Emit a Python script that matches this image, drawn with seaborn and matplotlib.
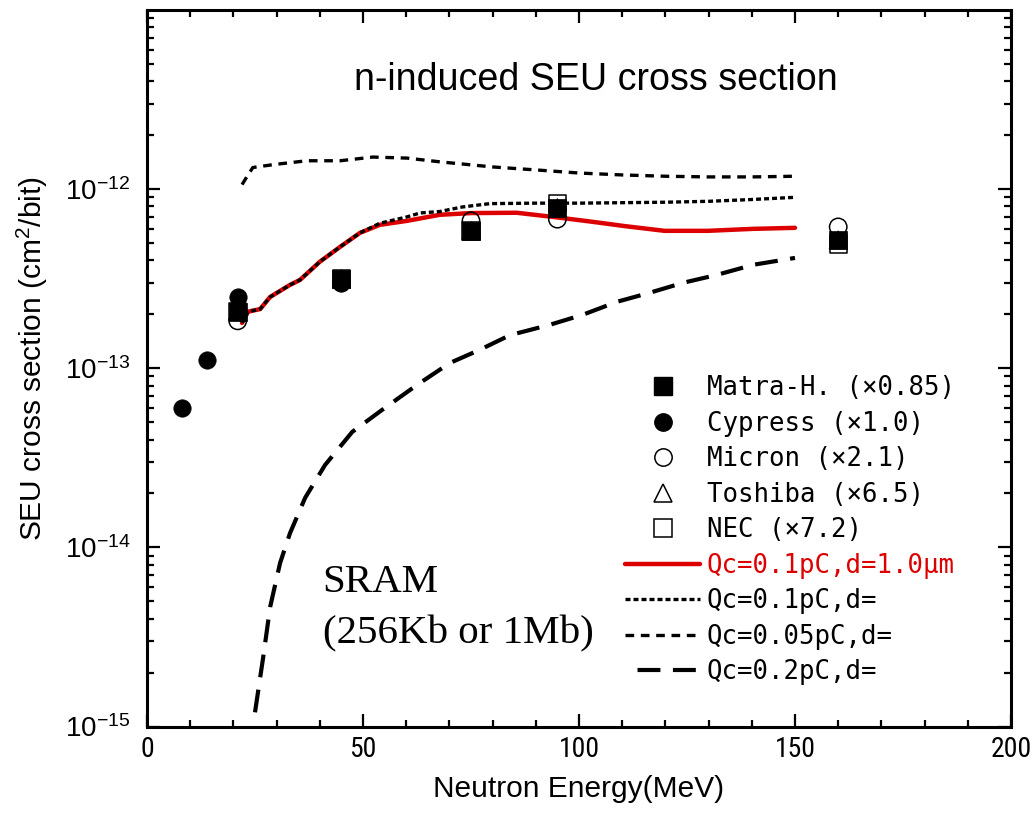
import matplotlib
matplotlib.use("Agg")
import matplotlib.pyplot as plt
import seaborn as sns
import pandas as pd
from matplotlib.lines import Line2D
from matplotlib.ticker import LogLocator, MultipleLocator, LogFormatterSciNotation, NullFormatter
from matplotlib import font_manager as fm

# ---------------- data ----------------
matra_E = [21, 45, 75, 95, 160]
matra_sigma = [2.07e-13, 3.15e-13, 5.85e-13, 7.87e-13, 5.2e-13]
cypress_E = [8, 14, 21, 45]
cypress_sigma = [6.0e-14, 1.11e-13, 2.5e-13, 3.0e-13]
micron_E = [21, 45, 75, 95, 160]
micron_sigma = [1.84e-13, 3.0e-13, 6.65e-13, 6.8e-13, 6.15e-13]
toshiba_E = [21, 45, 75, 95, 160]
toshiba_sigma = [2.07e-13, 3.15e-13, 5.85e-13, 7.87e-13, 5.2e-13]
nec_E = [21, 45, 75, 95, 160]
nec_sigma = [2.07e-13, 3.15e-13, 5.85e-13, 8.3e-13, 4.95e-13]

red_E = [22.0, 23.4, 26.2, 28.5, 33.1, 35.4, 40.0, 44.7, 49.3, 53.9, 60.2, 67.8,
         75.0, 85.6, 95.0, 102.5, 110.5, 119.8, 129.8, 140.2, 150.0]
red_sigma = [1.79e-13, 2.07e-13, 2.14e-13, 2.5e-13, 2.92e-13, 3.11e-13, 3.93e-13,
             4.76e-13, 5.7e-13, 6.32e-13, 6.65e-13, 7.19e-13, 7.35e-13, 7.38e-13,
             6.95e-13, 6.6e-13, 6.22e-13, 5.85e-13, 5.85e-13, 6.0e-13, 6.08e-13]

dot_E = [22.0, 23.4, 26.2, 28.5, 33.1, 35.4, 40.0, 44.7, 49.3, 53.9, 60.2, 63.2,
         67.8, 73.0, 79.4, 90.0, 100.0, 110.0, 120.0, 130.0, 140.0, 150.0]
dot_sigma = [1.79e-13, 2.07e-13, 2.14e-13, 2.5e-13, 2.92e-13, 3.11e-13, 3.93e-13,
             4.76e-13, 5.7e-13, 6.45e-13, 7.0e-13, 7.36e-13, 7.5e-13, 7.95e-13,
             8.3e-13, 8.35e-13, 8.35e-13, 8.4e-13, 8.45e-13, 8.55e-13, 8.75e-13, 9.0e-13]

dd_E = [22.0, 23.1, 24.5, 29.2, 37.0, 44.7, 52.3, 60.2, 67.8, 80.0, 90.0, 100.0,
        110.0, 120.0, 130.0, 140.0, 150.0]
dd_sigma = [1.06e-12, 1.17e-12, 1.32e-12, 1.37e-12, 1.44e-12, 1.44e-12, 1.51e-12,
            1.49e-12, 1.42e-12, 1.33e-12, 1.28e-12, 1.23e-12, 1.2e-12, 1.18e-12,
            1.17e-12, 1.17e-12, 1.18e-12]

ld_E = [25.0, 26.9, 28.5, 30.8, 33.1, 36.6, 41.2, 47.5, 54.4, 62.5, 70.1, 77.1,
        84.0, 93.3, 100.9, 108.8, 116.4, 124.1, 131.9, 140.3, 150.0]
ld_sigma = [1.2e-15, 2.44e-15, 4.64e-15, 8.17e-15, 1.2e-14, 1.89e-14, 2.88e-14,
            4.41e-14, 5.85e-14, 8.07e-14, 1.07e-13, 1.27e-13, 1.53e-13, 1.75e-13,
            1.99e-13, 2.35e-13, 2.64e-13, 3.0e-13, 3.32e-13, 3.78e-13, 4.13e-13]

legend_labels = ["Matra-H. (×0.85)", "Cypress (×1.0)", "Micron (×2.1)",
                 "Toshiba (×6.5)", "NEC (×7.2)", "Qc=0.1pC,d=1.0μm",
                 "Qc=0.1pC,d=", "Qc=0.05pC,d=", "Qc=0.2pC,d="]
title_text = "n-induced SEU cross section"
xlabel_text = "Neutron Energy(MeV)"
ylabel_text = "SEU cross section (cm$^2$/bit)"
note_lines = ["SRAM", "(256Kb or 1Mb)"]

# ---------------- style ----------------
sns.set_theme(style="ticks")
avail = {f.name for f in fm.fontManager.ttflist}
SANS = "Liberation Sans" if "Liberation Sans" in avail else "DejaVu Sans"
SERIF = "Liberation Serif" if "Liberation Serif" in avail else "DejaVu Serif"
MONO = "DejaVu Sans Mono"
NARROW = next((n for n in ["Liberation Sans Narrow", "Arial Narrow", "Roboto Condensed"]
               if n in avail), None)
TICK = NARROW if NARROW else SANS
plt.rcParams["font.family"] = [SANS, "DejaVu Sans"]
plt.rcParams["mathtext.fontset"] = "custom"
plt.rcParams["mathtext.rm"] = TICK
plt.rcParams["mathtext.it"] = TICK + ":italic"
plt.rcParams["mathtext.bf"] = TICK + ":bold"
plt.rcParams["mathtext.default"] = "regular"
plt.rcParams["axes.unicode_minus"] = False
for key in ["text.color", "axes.labelcolor", "xtick.color", "ytick.color",
            "xtick.labelcolor", "ytick.labelcolor", "axes.edgecolor"]:
    plt.rcParams[key] = "black"

YTICK_SIZE = 20 if NARROW else 17
XTICK_SIZE = 20 if NARROW else 16.5

RED = "#dd0000"
W, H = 1032, 816
fig = plt.figure(figsize=(W / 100, H / 100), dpi=100)
L, R, T, B = 147, 1011, 10, 726.5
ax = fig.add_axes([L / W, (H - B) / H, (R - L) / W, (B - T) / H])
ax.set_facecolor("white")
fig.patch.set_facecolor("white")

# lines
sns.lineplot(x=ld_E, y=ld_sigma, ax=ax, color="black", lw=3.0,
             linestyle=(0, (5.5, 3.0)), sort=False, zorder=2)
sns.lineplot(x=dd_E, y=dd_sigma, ax=ax, color="black", lw=2.4,
             linestyle=(0, (2.6, 2.0)), sort=False, zorder=2)
sns.lineplot(x=red_E, y=red_sigma, ax=ax, color=RED, lw=3.2,
             linestyle="-", sort=False, zorder=2)
sns.lineplot(x=dot_E, y=dot_sigma, ax=ax, color="black", lw=2.4,
             linestyle=(0, (1.5, 0.9)), sort=False, zorder=2.1)

MS = 12.5
S = MS ** 2
open_kw = dict(facecolor="none", edgecolor="black", linewidth=1.1, zorder=3)
sns.scatterplot(x=toshiba_E, y=toshiba_sigma, ax=ax, marker="^", s=S, **open_kw)
sns.scatterplot(x=nec_E, y=nec_sigma, ax=ax, marker="s", s=S, **open_kw)
sns.scatterplot(x=micron_E, y=micron_sigma, ax=ax, marker="o", s=S, **open_kw)
sns.scatterplot(x=cypress_E, y=cypress_sigma, ax=ax, marker="o", s=S,
                color="black", edgecolor="black", linewidth=0.5, zorder=4)
sns.scatterplot(x=matra_E, y=matra_sigma, ax=ax, marker="s", s=S,
                color="black", edgecolor="black", linewidth=0.5, zorder=4)

# axes
ax.set_yscale("log")
ax.set_xlim(0, 200)
ax.set_ylim(1e-15, 1e-11)
ax.xaxis.set_major_locator(MultipleLocator(50))
ax.xaxis.set_minor_locator(MultipleLocator(10))
ax.yaxis.set_major_locator(LogLocator(base=10, numticks=10))
ax.yaxis.set_minor_locator(LogLocator(base=10, subs=range(2, 10), numticks=10))
ax.yaxis.set_minor_formatter(NullFormatter())
ax.yaxis.set_major_formatter(LogFormatterSciNotation())
ax.set_yticks([1e-15, 1e-14, 1e-13, 1e-12])
for sp in ax.spines.values():
    sp.set_linewidth(2.2)
    sp.set_color("black")
ax.tick_params(which="both", direction="in", top=True, right=True,
               width=1.6, color="black", labelcolor="black")
ax.tick_params(which="major", length=9.4)
ax.tick_params(which="minor", length=5.0)
ax.tick_params(axis="x", which="major", pad=6.5, labelsize=XTICK_SIZE)
ax.tick_params(axis="y", which="major", pad=12, labelsize=YTICK_SIZE)
for lab in ax.get_xticklabels():
    lab.set_family(TICK)

ax.set_xlabel(xlabel_text, fontsize=21.5, labelpad=9, color="black")
ax.set_ylabel(ylabel_text, fontsize=21.5, color="black")
ax.yaxis.set_label_coords(-0.112, 0.514)

ax.text(0.520, (B - 90) / (B - T), title_text, transform=ax.transAxes, ha="center",
        va="baseline", fontsize=27.1, family=SANS, color="black")
ax.text((322.7 - L) / (R - L), (B - 591.7) / (B - T), note_lines[0],
        transform=ax.transAxes, ha="left", va="baseline", fontsize=29.5,
        family=SERIF, color="black")
ax.text((322.7 - L) / (R - L), (B - 643) / (B - T), note_lines[1],
        transform=ax.transAxes, ha="left", va="baseline", fontsize=29.5,
        family=SERIF, color="black")

# legend
handles = [
    Line2D([], [], ls="none", marker="s", ms=MS, mfc="black", mec="black"),
    Line2D([], [], ls="none", marker="o", ms=MS, mfc="black", mec="black"),
    Line2D([], [], ls="none", marker="o", ms=MS, mfc="none", mec="black", mew=1.1),
    Line2D([], [], ls="none", marker="^", ms=MS, mfc="none", mec="black", mew=1.1),
    Line2D([], [], ls="none", marker="s", ms=MS, mfc="none", mec="black", mew=1.1),
    Line2D([], [], color=RED, lw=3.2, ls="-"),
    Line2D([], [], color="black", lw=2.4, ls=(0, (1.5, 0.9))),
    Line2D([], [], color="black", lw=2.4, ls=(0, (2.6, 2.0))),
    Line2D([], [], color="black", lw=3.0, ls=(5.5, (5.5, 3.0))),
]
leg = ax.legend(handles, legend_labels, loc="upper left",
                bbox_to_anchor=((625 - L) / (R - L), (B - 375.3) / (B - T)),
                frameon=False, borderpad=0, borderaxespad=0, handlelength=2.92,
                handletextpad=0.26, labelspacing=0.37, numpoints=1,
                prop={"family": MONO, "size": 18.5})
for i, t in enumerate(leg.get_texts()):
    t.set_color(RED if i == 5 else "black")

fig.savefig("out.png", dpi=100, facecolor="white")
